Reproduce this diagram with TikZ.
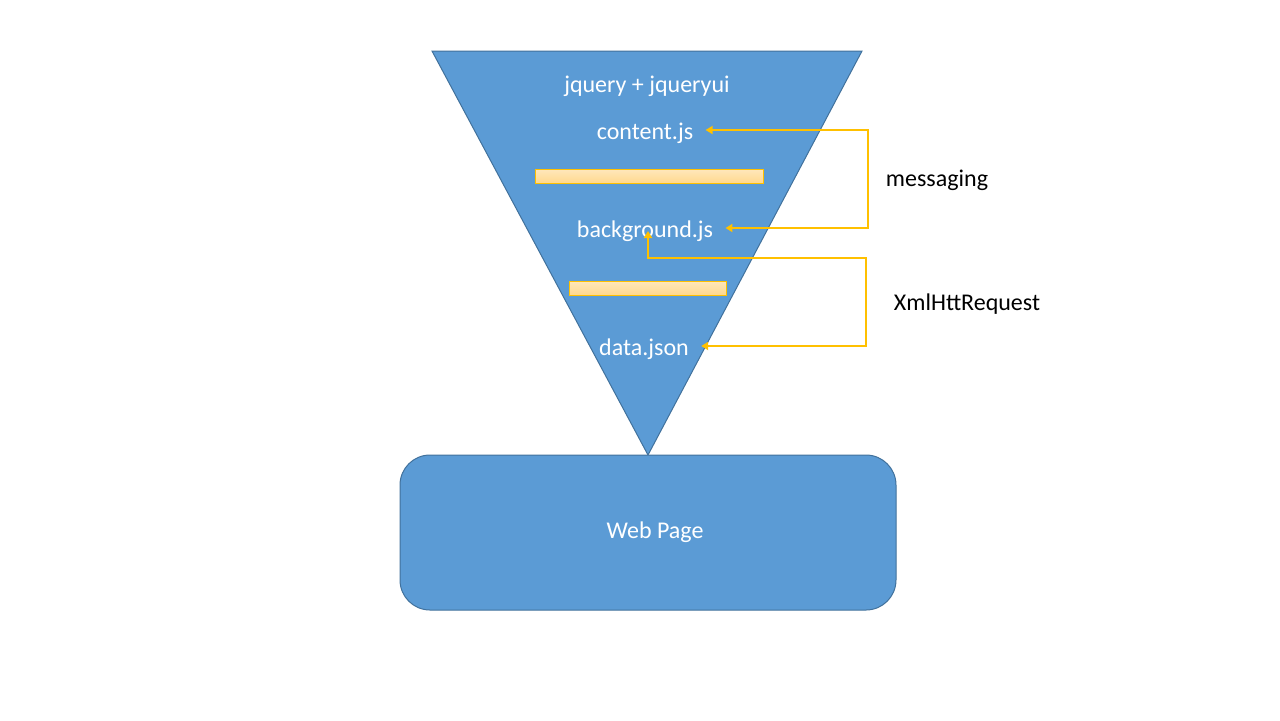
\documentclass[tikz,border=0pt]{standalone}
\usepackage{fontspec}
\setmainfont{Carlito}
\usetikzlibrary{positioning, arrows.meta}
\definecolor{funnelblue}{HTML}{5B9BD5}
\definecolor{funnelline}{HTML}{41719C}
\definecolor{msgyellow}{HTML}{FFC000}
\definecolor{barfill}{HTML}{FFD88E}
\tikzstyle{jstext} = [text=white, inner ysep=3pt, inner xsep=6pt, font=\fontsize{12pt}{14pt}\selectfont]
\tikzstyle{sidetext} = [text=black, inner sep=0pt, font=\fontsize{12pt}{14pt}\selectfont]
\tikzstyle{funnel} = [draw=funnelline, line width=0.5pt, fill=funnelblue]
\tikzstyle{bar} = [draw=msgyellow, line width=0.5pt, top color=barfill!60!white, bottom color=barfill]
\tikzstyle{page} = [rectangle, funnel, rounded corners=15pt, minimum width=248pt, minimum height=77.5pt,
	text=white, font=\fontsize{12pt}{14pt}\selectfont]
\tikzstyle{msg} = [draw=msgyellow, line width=1pt,
	{Triangle[length=3.5pt,width=4pt]}-{Triangle[length=3.5pt,width=4pt]}]

\begin{document}
\begin{tikzpicture}[x=0.5pt, y=-0.5pt]
		\useasboundingbox (0,0) rectangle (1280,720);
		%Funnel and page
		\draw [funnel] (432,51) -- (862,51) -- (648,455) -- cycle;
		\node [page] (page) at (648,532.5) {\hspace{7pt}\raisebox{-1pt}{Web Page}};
		\draw [bar] (535,169) rectangle (763,183);
		\draw [bar] (569,281) rectangle (726,295);
		
		%Place node
		\node [jstext] (jquery) at (647,86) {jquery + jqueryui};
		\node [jstext] (content) at (645,133) {content.js};
		\node [jstext] (background) at (645,231) {background.js};
		\node [jstext] (data) at (644,349) {data.json};
		\node [sidetext] (messaging) at (937,180) {messaging};
		\node [sidetext] (xhr) at (967,304) {XmlHttRequest};
		
		\coordinate (contentend) at ([yshift=1.5pt]content.east);
		\coordinate (backgroundend) at ([yshift=1.5pt]background.east);
		\coordinate (dataend) at ([yshift=1.5pt]data.east);
		\coordinate (msgturn) at (868,0);
		\coordinate (xhrturn) at (866,0);
		\coordinate (xhrdrop) at (648,258);
		
		%Draw edges
		\draw [msg] (contentend) -| (msgturn |- backgroundend) -- (backgroundend);
		\draw [msg] ([xshift=1.5pt]background.center) -- (xhrdrop) -| (xhrturn |- dataend) -- (dataend);
		
	\end{tikzpicture}
\end{document}
